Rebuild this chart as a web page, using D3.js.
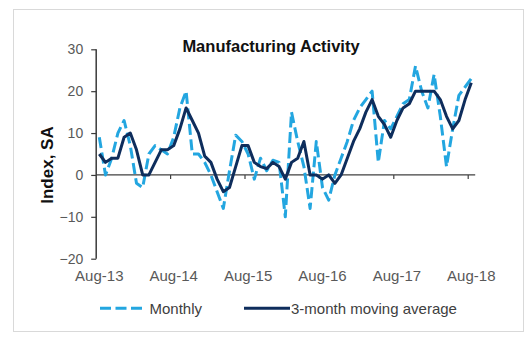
<!DOCTYPE html>
<html>
<head>
<meta charset="utf-8">
<script src="https://cdn.jsdelivr.net/npm/d3@7"></script>
<style>
  html, body { margin: 0; padding: 0; background: #fff; }
  svg { display: block; font-family: Arial, "Liberation Sans", Helvetica, sans-serif; }
</style>
</head>
<body>
<svg id="chart" width="531" height="338"></svg>
<script>
// Monthly periods, Aug 2013 through Aug 2018
const months = d3.timeMonth.range(new Date(2013, 7, 1), new Date(2018, 8, 1));
const fmtMonth = d3.timeFormat("%b-%y");

// Manufacturing activity index, seasonally adjusted
const monthly = [
  9, 0, 4, 10, 13, 7, -2, -3, 5, 7, 6, 5, 9, 16, 20,
  5, 5, 3, 0, -4, -8, 1, 9.5, 8, 5, -1, 4, 1, 3.5, 3,
  -10, 15, 8, 2, -8, 8, -3, -6, 0, 4, 8, 13, 16, 18, 20,
  3, 13, 11, 14, 17, 18, 26, 20, 16, 24, 14, 2, 11, 19, 21, 23
];
const movingAvg = [
  5, 3, 4, 4, 9, 10, 6, 0, 0, 3, 6, 6, 7, 11, 16,
  13, 10, 4.5, 3, -1, -4, -3, 2, 7, 7, 3, 2, 1.5, 3, 2,
  -1, 3, 4, 8, 0, 0, -1, 0, -2, 0, 4, 8, 11, 15, 18,
  14, 12, 9, 13, 16, 17, 20, 20, 20, 20, 18, 14, 11, 13, 18, 22
];

const yTicks = [-20, -10, 0, 10, 20, 30];
const xTickLabels = ["Aug-13", "Aug-14", "Aug-15", "Aug-16", "Aug-17", "Aug-18"];
const seriesNames = ["Monthly", "3-month moving average"];
const colors = { monthly: "#23a6e0", avg: "#0e2d5c" };

const svg = d3.select("#chart");

// frame
svg.append("rect")
  .attr("x", 13.5).attr("y", 9.5)
  .attr("width", 510).attr("height", 322)
  .attr("fill", "#fff").attr("stroke", "#d9d9d9").attr("stroke-width", 1);

// scales
const x = d3.scaleBand()
  .domain(months.map((d, i) => i))
  .range([96.2, 474.4])
  .paddingInner(0).paddingOuter(0);
const cx = i => x(i) + x.bandwidth() / 2;

const y = d3.scaleLinear().domain([-20, 30]).range([258.7, 49.3]);

// title
svg.append("text")
  .attr("x", 271).attr("y", 51.5)
  .attr("text-anchor", "middle")
  .attr("font-size", 16.5).attr("font-weight", "bold")
  .attr("fill", "#111")
  .text("Manufacturing Activity");

// y axis title
svg.append("text")
  .attr("transform", "translate(53,165) rotate(-90)")
  .attr("text-anchor", "middle")
  .attr("font-size", 17).attr("font-weight", "bold")
  .attr("fill", "#111")
  .text("Index, SA");

// y axis
const yAxis = svg.append("g")
  .attr("transform", `translate(${x.range()[0]},0)`)
  .call(d3.axisLeft(y).tickValues(yTicks).tickSize(5).tickPadding(8).tickFormat(d3.format("d")));
yAxis.select(".domain").attr("stroke", "#3a3a3a").attr("stroke-width", 1.5)
  .attr("d", `M0,${y(-20)}V${y(30)}`);
yAxis.selectAll(".tick line").attr("stroke", "#3a3a3a").attr("stroke-width", 1.2);
yAxis.selectAll(".tick text").attr("font-size", 14).attr("fill", "#595959")
  .attr("font-family", "Arial, 'Liberation Sans', sans-serif");

// zero line with yearly tick marks
const [x0, x1] = x.range();
svg.append("line")
  .attr("x1", x0).attr("x2", x1 + 0.8)
  .attr("y1", y(0)).attr("y2", y(0))
  .attr("stroke", "#404040").attr("stroke-width", 1.2);
const yearStarts = xTickLabels.map((d, k) => k * 12).filter(i => i > 0);
svg.selectAll(".ytick-mark")
  .data(yearStarts)
  .join("line")
  .attr("x1", i => x(i)).attr("x2", i => x(i))
  .attr("y1", y(0)).attr("y2", y(0) + 4)
  .attr("stroke", "#404040").attr("stroke-width", 1.2);

// x axis labels, placed below the plot
const xAxis = svg.append("g")
  .attr("transform", `translate(0,${y(-20)})`)
  .call(d3.axisBottom(x)
    .tickValues(xTickLabels.map((d, k) => k * 12))
    .tickSize(0).tickPadding(11.7)
    .tickFormat(i => fmtMonth(months[i])));
xAxis.select(".domain").remove();
xAxis.selectAll(".tick text").attr("font-size", 15).attr("fill", "#595959")
  .attr("font-family", "Arial, 'Liberation Sans', sans-serif");

// series lines
const line = d3.line().x((d, i) => cx(i)).y(d => y(d));

svg.append("path")
  .datum(monthly)
  .attr("d", line)
  .attr("fill", "none")
  .attr("stroke", colors.monthly)
  .attr("stroke-width", 3)
  .attr("stroke-dasharray", "11,4.5")
  .attr("stroke-linejoin", "round");

svg.append("path")
  .datum(movingAvg)
  .attr("d", line)
  .attr("fill", "none")
  .attr("stroke", colors.avg)
  .attr("stroke-width", 3)
  .attr("stroke-linejoin", "round");

// legend
const legend = svg.append("g").attr("font-size", 15).attr("fill", "#404040");
legend.append("line")
  .attr("x1", 100).attr("x2", 143.5).attr("y1", 308.3).attr("y2", 308.3)
  .attr("stroke", colors.monthly).attr("stroke-width", 3).attr("stroke-dasharray", "11,4.5");
legend.append("text").attr("x", 149.5).attr("y", 313.5).text(seriesNames[0]);
legend.append("line")
  .attr("x1", 244).attr("x2", 290).attr("y1", 308.3).attr("y2", 308.3)
  .attr("stroke", colors.avg).attr("stroke-width", 3);
legend.append("text").attr("x", 291).attr("y", 313.5).text(seriesNames[1]);
</script>
</body>
</html>
